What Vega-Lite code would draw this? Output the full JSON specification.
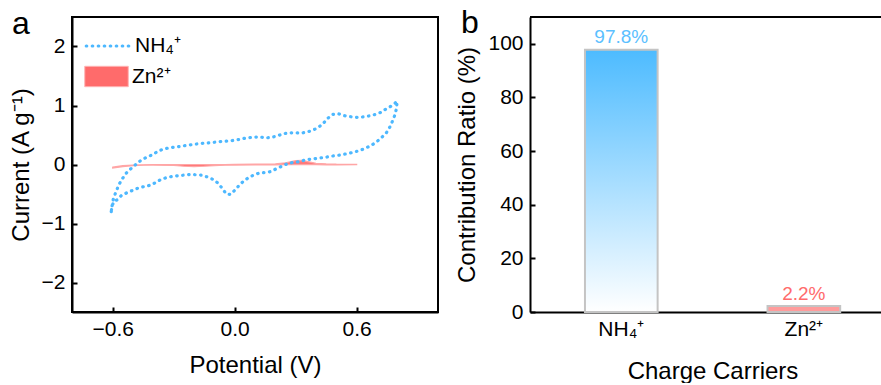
{
  "$schema": "https://vega.github.io/schema/vega-lite/v6.json",
  "padding": {"left": 8, "top": 7, "right": 0, "bottom": 0},
  "spacing": 16,
  "config": {
    "font": "Liberation Sans",
    "view": {"stroke": null},
    "axis": {
      "labelFontSize": 21, "titleFontSize": 24, "titleFontWeight": "normal",
      "labelColor": "black", "titleColor": "black", "domainColor": "black", "domainWidth": 2,
      "tickColor": "black", "tickWidth": 2, "tickSize": -5, "grid": false,
      "titlePadding": 8
    },
    "axisX": {"labelPadding": 11},
    "axisY": {"labelPadding": 12},
    "title": {"fontSize": 32, "fontWeight": "normal", "anchor": "start", "baseline": "alphabetic", "offset": 0, "color": "black"},
    "legend": {"labelFontSize": 21, "labelColor": "black", "padding": 0}
  },
  "hconcat": [
    {
      "width": 366, "height": 295,
      "view": {"stroke": "black", "strokeWidth": 2},
      "title": {"text": "a", "dx": -60, "dy": 28, "frame": "group"},
      "layer": [
        {
          "data": {"values": [
            {"series": "Zn²⁺", "v": -0.60, "hi": -0.045, "lo": -0.06},
            {"series": "Zn²⁺", "v": -0.55, "hi": -0.02, "lo": -0.035},
            {"series": "Zn²⁺", "v": -0.50, "hi": -0.01, "lo": -0.02},
            {"series": "Zn²⁺", "v": -0.45, "hi": -0.005, "lo": -0.012},
            {"series": "Zn²⁺", "v": -0.40, "hi": 0.0, "lo": -0.01},
            {"series": "Zn²⁺", "v": -0.30, "hi": 0.0, "lo": -0.015},
            {"series": "Zn²⁺", "v": -0.25, "hi": 0.0, "lo": -0.03},
            {"series": "Zn²⁺", "v": -0.20, "hi": 0.0, "lo": -0.035},
            {"series": "Zn²⁺", "v": -0.15, "hi": 0.0, "lo": -0.03},
            {"series": "Zn²⁺", "v": -0.10, "hi": 0.0, "lo": -0.02},
            {"series": "Zn²⁺", "v": -0.05, "hi": 0.0, "lo": -0.012},
            {"series": "Zn²⁺", "v": 0.00, "hi": 0.003, "lo": -0.01},
            {"series": "Zn²⁺", "v": 0.10, "hi": 0.005, "lo": -0.008},
            {"series": "Zn²⁺", "v": 0.20, "hi": 0.01, "lo": -0.005},
            {"series": "Zn²⁺", "v": 0.25, "hi": 0.03, "lo": -0.004},
            {"series": "Zn²⁺", "v": 0.30, "hi": 0.065, "lo": -0.003},
            {"series": "Zn²⁺", "v": 0.33, "hi": 0.07, "lo": -0.003},
            {"series": "Zn²⁺", "v": 0.36, "hi": 0.05, "lo": -0.003},
            {"series": "Zn²⁺", "v": 0.40, "hi": 0.02, "lo": -0.004},
            {"series": "Zn²⁺", "v": 0.45, "hi": 0.01, "lo": -0.005},
            {"series": "Zn²⁺", "v": 0.50, "hi": 0.005, "lo": -0.005},
            {"series": "Zn²⁺", "v": 0.60, "hi": 0.003, "lo": -0.004}
          ]},
          "mark": {"type": "area", "stroke": "#ffa6a6", "strokeWidth": 1.2, "fillOpacity": 0.9},
          "encoding": {
            "x": {"field": "v", "type": "quantitative", "scale": {"domain": [-0.8, 1.0], "nice": false},
                  "axis": {"values": [-0.6, 0, 0.6], "format": ".1f", "title": "Potential (V)", "titlePadding": 14}},
            "y": {"field": "hi", "type": "quantitative", "scale": {"domain": [-2.5, 2.5], "nice": false},
                  "axis": {"values": [-2, -1, 0, 1, 2], "format": "d", "title": "Current (A g⁻¹)"}},
            "y2": {"field": "lo"},
            "fill": {"field": "series", "type": "nominal",
              "scale": {"range": ["#ff6b6b"]},
              "legend": {
                "orient": "none", "legendX": 19, "legendY": 44, "title": null,
                "symbolType": "M-1.45,-0.68H1.45V0.68H-1.45Z", "symbolSize": 900,
                "symbolStrokeColor": "#ffb3b3", "symbolStrokeWidth": 1, "symbolOpacity": 1,
                "labelOffset": 10
              }}
          }
        },
        {
          "data": {"values": [
            {"series": "NH₄⁺", "i": 1, "v": -0.607, "c": -0.80},
            {"series": "NH₄⁺", "i": 2, "v": -0.602, "c": -0.68},
            {"series": "NH₄⁺", "i": 3, "v": -0.596, "c": -0.57},
            {"series": "NH₄⁺", "i": 4, "v": -0.582, "c": -0.45},
            {"series": "NH₄⁺", "i": 5, "v": -0.569, "c": -0.34},
            {"series": "NH₄⁺", "i": 6, "v": -0.552, "c": -0.24},
            {"series": "NH₄⁺", "i": 7, "v": -0.533, "c": -0.146},
            {"series": "NH₄⁺", "i": 8, "v": -0.511, "c": -0.073},
            {"series": "NH₄⁺", "i": 9, "v": -0.486, "c": 0.0},
            {"series": "NH₄⁺", "i": 10, "v": -0.462, "c": 0.068},
            {"series": "NH₄⁺", "i": 11, "v": -0.432, "c": 0.125},
            {"series": "NH₄⁺", "i": 12, "v": -0.401, "c": 0.17},
            {"series": "NH₄⁺", "i": 13, "v": -0.380, "c": 0.22},
            {"series": "NH₄⁺", "i": 14, "v": -0.352, "c": 0.26},
            {"series": "NH₄⁺", "i": 15, "v": -0.322, "c": 0.283},
            {"series": "NH₄⁺", "i": 16, "v": -0.294, "c": 0.295},
            {"series": "NH₄⁺", "i": 17, "v": -0.268, "c": 0.305},
            {"series": "NH₄⁺", "i": 18, "v": -0.240, "c": 0.322},
            {"series": "NH₄⁺", "i": 19, "v": -0.207, "c": 0.339},
            {"series": "NH₄⁺", "i": 20, "v": -0.179, "c": 0.351},
            {"series": "NH₄⁺", "i": 21, "v": -0.149, "c": 0.363},
            {"series": "NH₄⁺", "i": 22, "v": -0.118, "c": 0.37},
            {"series": "NH₄⁺", "i": 23, "v": -0.092, "c": 0.38},
            {"series": "NH₄⁺", "i": 24, "v": -0.067, "c": 0.39},
            {"series": "NH₄⁺", "i": 25, "v": -0.039, "c": 0.396},
            {"series": "NH₄⁺", "i": 26, "v": -0.010, "c": 0.407},
            {"series": "NH₄⁺", "i": 27, "v": 0.020, "c": 0.424},
            {"series": "NH₄⁺", "i": 28, "v": 0.053, "c": 0.447},
            {"series": "NH₄⁺", "i": 29, "v": 0.092, "c": 0.464},
            {"series": "NH₄⁺", "i": 30, "v": 0.127, "c": 0.464},
            {"series": "NH₄⁺", "i": 31, "v": 0.160, "c": 0.452},
            {"series": "NH₄⁺", "i": 32, "v": 0.187, "c": 0.464},
            {"series": "NH₄⁺", "i": 33, "v": 0.215, "c": 0.492},
            {"series": "NH₄⁺", "i": 34, "v": 0.240, "c": 0.52},
            {"series": "NH₄⁺", "i": 35, "v": 0.266, "c": 0.537},
            {"series": "NH₄⁺", "i": 36, "v": 0.299, "c": 0.537},
            {"series": "NH₄⁺", "i": 37, "v": 0.327, "c": 0.532},
            {"series": "NH₄⁺", "i": 38, "v": 0.357, "c": 0.549},
            {"series": "NH₄⁺", "i": 39, "v": 0.383, "c": 0.582},
            {"series": "NH₄⁺", "i": 40, "v": 0.409, "c": 0.62},
            {"series": "NH₄⁺", "i": 41, "v": 0.434, "c": 0.69},
            {"series": "NH₄⁺", "i": 42, "v": 0.459, "c": 0.786},
            {"series": "NH₄⁺", "i": 43, "v": 0.480, "c": 0.847},
            {"series": "NH₄⁺", "i": 44, "v": 0.511, "c": 0.859},
            {"series": "NH₄⁺", "i": 45, "v": 0.536, "c": 0.83},
            {"series": "NH₄⁺", "i": 46, "v": 0.561, "c": 0.814},
            {"series": "NH₄⁺", "i": 47, "v": 0.585, "c": 0.803},
            {"series": "NH₄⁺", "i": 48, "v": 0.610, "c": 0.797},
            {"series": "NH₄⁺", "i": 49, "v": 0.636, "c": 0.808},
            {"series": "NH₄⁺", "i": 50, "v": 0.664, "c": 0.825},
            {"series": "NH₄⁺", "i": 51, "v": 0.690, "c": 0.847},
            {"series": "NH₄⁺", "i": 52, "v": 0.717, "c": 0.881},
            {"series": "NH₄⁺", "i": 53, "v": 0.740, "c": 0.932},
            {"series": "NH₄⁺", "i": 54, "v": 0.766, "c": 0.983},
            {"series": "NH₄⁺", "i": 55, "v": 0.789, "c": 1.04},
            {"series": "NH₄⁺", "i": 56, "v": 0.799, "c": 1.074},
            {"series": "NH₄⁺", "i": 57, "v": 0.796, "c": 0.949},
            {"series": "NH₄⁺", "i": 58, "v": 0.787, "c": 0.83},
            {"series": "NH₄⁺", "i": 59, "v": 0.776, "c": 0.735},
            {"series": "NH₄⁺", "i": 60, "v": 0.763, "c": 0.634},
            {"series": "NH₄⁺", "i": 61, "v": 0.746, "c": 0.537},
            {"series": "NH₄⁺", "i": 62, "v": 0.723, "c": 0.458},
            {"series": "NH₄⁺", "i": 63, "v": 0.697, "c": 0.38},
            {"series": "NH₄⁺", "i": 64, "v": 0.668, "c": 0.317},
            {"series": "NH₄⁺", "i": 65, "v": 0.640, "c": 0.271},
            {"series": "NH₄⁺", "i": 66, "v": 0.615, "c": 0.237},
            {"series": "NH₄⁺", "i": 67, "v": 0.587, "c": 0.21},
            {"series": "NH₄⁺", "i": 68, "v": 0.557, "c": 0.186},
            {"series": "NH₄⁺", "i": 69, "v": 0.530, "c": 0.169},
            {"series": "NH₄⁺", "i": 70, "v": 0.505, "c": 0.153},
            {"series": "NH₄⁺", "i": 71, "v": 0.478, "c": 0.142},
            {"series": "NH₄⁺", "i": 72, "v": 0.451, "c": 0.125},
            {"series": "NH₄⁺", "i": 73, "v": 0.426, "c": 0.114},
            {"series": "NH₄⁺", "i": 74, "v": 0.398, "c": 0.10},
            {"series": "NH₄⁺", "i": 75, "v": 0.368, "c": 0.088},
            {"series": "NH₄⁺", "i": 76, "v": 0.344, "c": 0.075},
            {"series": "NH₄⁺", "i": 77, "v": 0.316, "c": 0.046},
            {"series": "NH₄⁺", "i": 78, "v": 0.286, "c": 0.034},
            {"series": "NH₄⁺", "i": 79, "v": 0.258, "c": 0.012},
            {"series": "NH₄⁺", "i": 80, "v": 0.234, "c": -0.027},
            {"series": "NH₄⁺", "i": 81, "v": 0.204, "c": -0.073},
            {"series": "NH₄⁺", "i": 82, "v": 0.179, "c": -0.119},
            {"series": "NH₄⁺", "i": 83, "v": 0.151, "c": -0.136},
            {"series": "NH₄⁺", "i": 84, "v": 0.125, "c": -0.141},
            {"series": "NH₄⁺", "i": 85, "v": 0.100, "c": -0.169},
            {"series": "NH₄⁺", "i": 86, "v": 0.072, "c": -0.214},
            {"series": "NH₄⁺", "i": 87, "v": 0.044, "c": -0.281},
            {"series": "NH₄⁺", "i": 88, "v": 0.023, "c": -0.349},
            {"series": "NH₄⁺", "i": 89, "v": 0.003, "c": -0.429},
            {"series": "NH₄⁺", "i": 90, "v": -0.021, "c": -0.508},
            {"series": "NH₄⁺", "i": 91, "v": -0.042, "c": -0.497},
            {"series": "NH₄⁺", "i": 92, "v": -0.062, "c": -0.40},
            {"series": "NH₄⁺", "i": 93, "v": -0.084, "c": -0.31},
            {"series": "NH₄⁺", "i": 94, "v": -0.108, "c": -0.251},
            {"series": "NH₄⁺", "i": 95, "v": -0.133, "c": -0.214},
            {"series": "NH₄⁺", "i": 96, "v": -0.161, "c": -0.18},
            {"series": "NH₄⁺", "i": 97, "v": -0.187, "c": -0.175},
            {"series": "NH₄⁺", "i": 98, "v": -0.215, "c": -0.169},
            {"series": "NH₄⁺", "i": 99, "v": -0.248, "c": -0.18},
            {"series": "NH₄⁺", "i": 100, "v": -0.281, "c": -0.191},
            {"series": "NH₄⁺", "i": 101, "v": -0.309, "c": -0.203},
            {"series": "NH₄⁺", "i": 102, "v": -0.338, "c": -0.225},
            {"series": "NH₄⁺", "i": 103, "v": -0.366, "c": -0.259},
            {"series": "NH₄⁺", "i": 104, "v": -0.393, "c": -0.315},
            {"series": "NH₄⁺", "i": 105, "v": -0.421, "c": -0.356},
            {"series": "NH₄⁺", "i": 106, "v": -0.445, "c": -0.373},
            {"series": "NH₄⁺", "i": 107, "v": -0.475, "c": -0.40},
            {"series": "NH₄⁺", "i": 108, "v": -0.503, "c": -0.44},
            {"series": "NH₄⁺", "i": 109, "v": -0.531, "c": -0.48},
            {"series": "NH₄⁺", "i": 110, "v": -0.557, "c": -0.525},
            {"series": "NH₄⁺", "i": 111, "v": -0.577, "c": -0.598},
            {"series": "NH₄⁺", "i": 112, "v": -0.593, "c": -0.62},
            {"series": "NH₄⁺", "i": 113, "v": -0.603, "c": -0.70},
            {"series": "NH₄⁺", "i": 114, "v": -0.607, "c": -0.80}
          ]},
          "mark": {"type": "line", "strokeWidth": 3.2, "strokeDash": [0.5, 5.5], "strokeCap": "round"},
          "encoding": {
            "x": {"field": "v", "type": "quantitative", "title": "Potential (V)"},
            "y": {"field": "c", "type": "quantitative", "title": "Current (A g⁻¹)"},
            "order": {"field": "i", "type": "quantitative"},
            "stroke": {"field": "series", "type": "nominal",
              "scale": {"range": ["#4db8ff"]},
              "legend": {
                "orient": "none", "legendX": 19, "legendY": 12, "title": null,
                "symbolType": "M-1.45,0H1.45", "symbolSize": 900,
                "symbolStrokeWidth": 3.2, "symbolDash": [0.5, 5.5], "symbolFillColor": "transparent", "symbolOpacity": 1,
                "labelOffset": 10,
                "encode": {"symbols": {"update": {"strokeCap": {"value": "round"}}}}
              }}
          }
        }
      ],
      "resolve": {"legend": {"fill": "independent", "stroke": "independent"}}
    },
    {
      "width": 352, "height": 295,
      "title": {"text": "b", "dx": -69, "dy": 28, "frame": "group"},
      "data": {"values": [
        {"carrier": "NH₄⁺", "ratio": 97.8, "label": "97.8%"},
        {"carrier": "Zn²⁺", "ratio": 2.2, "label": "2.2%"}
      ]},
      "layer": [
        {
          "mark": {"type": "rule", "color": "black", "strokeWidth": 2},
          "encoding": {"y": {"datum": 110, "type": "quantitative"}}
        },
        {
          "mark": {"type": "bar", "stroke": "#c4c4c4", "strokeWidth": 2},
          "encoding": {
            "x": {"field": "carrier", "type": "nominal", "sort": null,
                  "scale": {"paddingInner": 0.602, "paddingOuter": 0.265, "align": 0.568},
                  "axis": {"labelAngle": 0, "title": "Charge Carriers", "titleX": 182.5, "titlePadding": 20}},
            "y": {"field": "ratio", "type": "quantitative", "scale": {"domain": [0, 110], "nice": false},
                  "axis": {"values": [0, 20, 40, 60, 80, 100], "title": "Contribution Ratio (%)"}},
            "fill": {
              "condition": {"test": "datum.carrier === 'Zn²⁺'", "value": "#ff9c9c"},
              "value": {"gradient": "linear", "x1": 0, "y1": 0, "x2": 0, "y2": 1,
                        "stops": [{"offset": 0, "color": "#4dbbff"}, {"offset": 1, "color": "#ffffff"}]}
            }
          }
        },
        {
          "mark": {"type": "text", "dy": -12.5, "fontSize": 19},
          "encoding": {
            "x": {"field": "carrier", "type": "nominal", "sort": null},
            "y": {"field": "ratio", "type": "quantitative"},
            "text": {"field": "label"},
            "color": {"field": "carrier", "type": "nominal", "sort": null,
                      "scale": {"range": ["#5bc0ff", "#ff6b6b"]}, "legend": null}
          }
        }
      ]
    }
  ]
}
